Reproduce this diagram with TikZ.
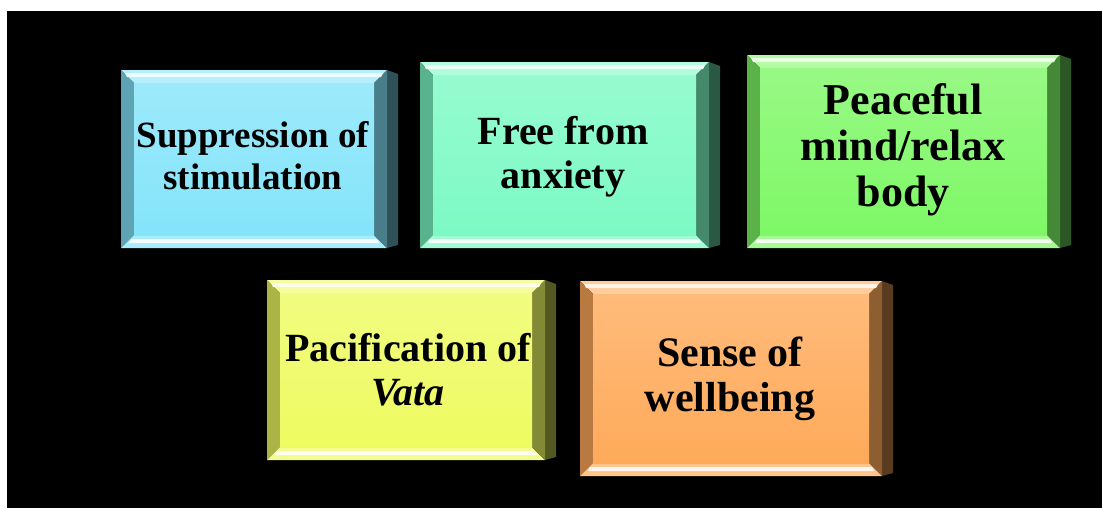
\documentclass[tikz,border=0pt]{standalone}
\usepackage{fontspec}
\setmainfont{Liberation Serif}
\usetikzlibrary{calc}
\definecolor{cA}{HTML}{84E4FA}
\definecolor{cB}{HTML}{7CFAC4}
\definecolor{cC}{HTML}{7EF866}
\definecolor{cD}{HTML}{EEFB60}
\definecolor{cE}{HTML}{FFAA5A}
\newcommand{\bevelbox}[7]{%
  \coordinate (#1-A) at (#2,#3);
  \coordinate (#1-B) at (#4,#5);
  \coordinate (#1-C) at (#4,#6);
  \coordinate (#1-D) at (#2,#6);
  \coordinate (#1-a) at ($(#1-A)+(13,13)$);
  \coordinate (#1-b) at ($(#1-B)+(-13,13)$);
  \coordinate (#1-c) at ($(#1-C)+(-13,-13)$);
  \coordinate (#1-d) at ($(#1-D)+(13,-13)$);
  \fill[#7!35!black] (#1-B) -- ++(11,4) -- ($(#1-C)+(11,-3)$) -- (#1-C) -- cycle;
  \fill[#7!60!white] (#1-A) -- (#1-B) -- (#1-b) -- (#1-a) -- cycle;
  \fill[#7!72!black] (#1-A) -- (#1-a) -- (#1-d) -- (#1-D) -- cycle;
  \fill[#7!70!white] (#1-D) -- (#1-d) -- (#1-c) -- (#1-C) -- cycle;
  \fill[#7!55!black] (#1-B) -- (#1-b) -- (#1-c) -- (#1-C) -- cycle;
  \shade[top color=#7!80!white, bottom color=#7] (#1-a) -- (#1-b) -- (#1-c) -- (#1-d) -- cycle;
  \fill[white!85!#7] ($(#1-A)+(4,3)$) -- ($(#1-B)+(-4,3)$) -- ($(#1-B)+(-6,7)$) -- ($(#1-A)+(6,7)$) -- cycle;
  \fill[white!90!#7] ($(#1-D)+(8,-5)$) -- ($(#1-C)+(-8,-5)$) -- ($(#1-C)+(-10,-9)$) -- ($(#1-D)+(10,-9)$) -- cycle;
}
\tikzset{lbl/.style={text=black, align=center, inner sep=0pt}}
\begin{document}
\begin{tikzpicture}[x=0.75pt,y=-0.75pt]
\useasboundingbox (0,0) rectangle (1102,508);
\fill[white] (0,0) rectangle (1102,508);
\fill[black] (7,11) rectangle (1102,508);
\bevelbox{s1}{121}{70}{387}{70}{248}{cA}
\bevelbox{s2}{420}{62}{709}{62}{248}{cB}
\bevelbox{s3}{747}{55}{1060}{55}{248}{cC}
\bevelbox{s4}{267}{280}{545}{280}{460}{cD}
\bevelbox{s5}{580}{281}{882}{281}{476}{cE}
\node[lbl, font=\fontsize{27.75}{31.5}\selectfont\bfseries] (b1) at (253,156) {Suppression of\\stimulation};
\node[lbl, font=\fontsize{30}{33}\selectfont\bfseries] (b2) at (563,157) {Free from\\anxiety};
\node[lbl, font=\fontsize{33}{34.5}\selectfont\bfseries] (b3) at (903,150) {Peaceful\\mind/relax\\body};
\node[lbl, font=\fontsize{30}{33}\selectfont\bfseries] (b4) at (408,370) {Pacification of\\\textit{Vata}};
\node[lbl, font=\fontsize{31.5}{34}\selectfont\bfseries] (b5) at (730,379) {Sense of\\wellbeing};
\end{tikzpicture}
\end{document}
